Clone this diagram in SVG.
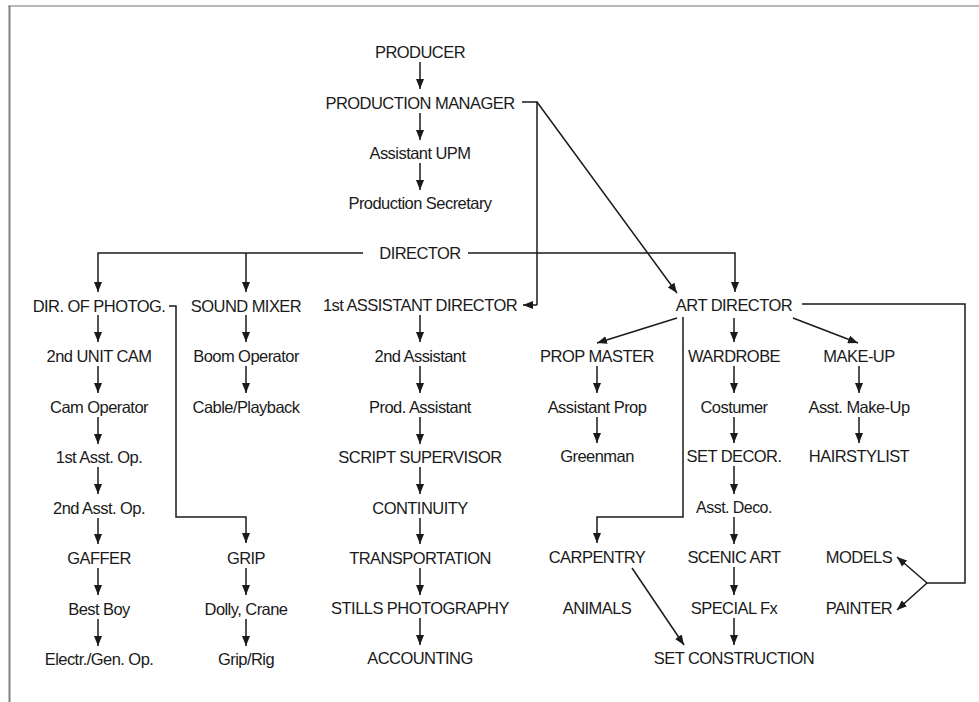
<svg xmlns="http://www.w3.org/2000/svg" width="979" height="702" viewBox="0 0 979 702">
<defs>
<style>
text{font-family:"Liberation Sans",Arial,Helvetica,sans-serif;font-size:16.5px;letter-spacing:-0.55px;fill:#1a1a1a;text-anchor:middle}
.c{fill:none;stroke:#1a1a1a;stroke-width:1.5}
.a{marker-end:url(#ah)}
</style>
<marker id="ah" markerUnits="userSpaceOnUse" markerWidth="10" markerHeight="8" refX="10" refY="4" orient="auto">
<path d="M0,0 L10,4 L0,8 z" fill="#1a1a1a"/>
</marker>
</defs>
<rect width="979" height="702" fill="#fff"/>
<g id="frame">
<line x1="8" y1="6" x2="979" y2="6" stroke="#b8b8b8" stroke-width="2"/>
<line x1="9.5" y1="6" x2="9.5" y2="702" stroke="#808080" stroke-width="2"/>
</g>
<g id="connectors">
<path class="c a" d="M420,62 V89"/>
<path class="c a" d="M420,113 V140"/>
<path class="c a" d="M420,163 V190"/>
<path class="c" d="M522,102 H537 V305"/>
<path class="c a" d="M537,305 H523"/>
<path class="c a" d="M537,102 L677,293"/>
<path class="c a" d="M363,253 H98 V292"/>
<path class="c a" d="M246,253 V292"/>
<path class="c a" d="M468,253 H735 V292"/>
<path class="c a" d="M98,315 V342"/>
<path class="c a" d="M98,366 V393"/>
<path class="c a" d="M98,417 V444"/>
<path class="c a" d="M98,467 V494"/>
<path class="c a" d="M98,518 V544"/>
<path class="c a" d="M98,568 V595"/>
<path class="c a" d="M98,619 V646"/>
<path class="c a" d="M169,306 H176 V517 H246 V543"/>
<path class="c a" d="M246,315 V342"/>
<path class="c a" d="M246,366 V393"/>
<path class="c a" d="M246,568 V595"/>
<path class="c a" d="M246,619 V646"/>
<path class="c a" d="M420,315 V342"/>
<path class="c a" d="M420,366 V393"/>
<path class="c a" d="M420,417 V444"/>
<path class="c a" d="M420,467 V494"/>
<path class="c a" d="M420,518 V544"/>
<path class="c a" d="M420,568 V595"/>
<path class="c a" d="M420,618 V645"/>
<path class="c a" d="M677,318 L597,343"/>
<path class="c a" d="M734,318 V342"/>
<path class="c a" d="M793,318 L858,343"/>
<path class="c a" d="M683,317 V517 H597 V543"/>
<path class="c" d="M802,304 H965 V583 H927"/>
<path class="c a" d="M927,583 L897,557"/>
<path class="c a" d="M927,583 L897,610"/>
<path class="c a" d="M597,366 V393"/>
<path class="c a" d="M597,417 V443"/>
<path class="c a" d="M734,366 V393"/>
<path class="c a" d="M734,417 V443"/>
<path class="c a" d="M734,466 V494"/>
<path class="c a" d="M734,517 V544"/>
<path class="c a" d="M734,567 V595"/>
<path class="c a" d="M734,618 V645"/>
<path class="c a" d="M859,366 V393"/>
<path class="c a" d="M859,417 V443"/>
<path class="c a" d="M632,568 L684,645"/>
</g>
<g id="producer"><text x="420" y="58">PRODUCER</text></g>
<g id="production-manager"><text x="420" y="109">PRODUCTION MANAGER</text></g>
<g id="assistant-upm"><text x="420" y="159">Assistant UPM</text></g>
<g id="production-secretary"><text x="420" y="209">Production Secretary</text></g>
<g id="director"><text x="420" y="259">DIRECTOR</text></g>
<g id="dir-photog"><text x="99" y="312">DIR. OF PHOTOG.</text></g>
<g id="sound-mixer"><text x="246" y="312">SOUND MIXER</text></g>
<g id="first-ad"><text x="420" y="311">1st ASSISTANT DIRECTOR</text></g>
<g id="art-director"><text x="734" y="311">ART DIRECTOR</text></g>
<g id="second-unit-cam"><text x="99" y="362">2nd UNIT CAM</text></g>
<g id="boom-operator"><text x="246" y="362">Boom Operator</text></g>
<g id="second-assistant"><text x="420" y="362">2nd Assistant</text></g>
<g id="prop-master"><text x="597" y="362">PROP MASTER</text></g>
<g id="wardrobe"><text x="734" y="362">WARDROBE</text></g>
<g id="make-up"><text x="859" y="362">MAKE-UP</text></g>
<g id="cam-operator"><text x="99" y="413">Cam Operator</text></g>
<g id="cable-playback"><text x="246" y="413">Cable/Playback</text></g>
<g id="prod-assistant"><text x="420" y="413">Prod. Assistant</text></g>
<g id="assistant-prop"><text x="597" y="413">Assistant Prop</text></g>
<g id="costumer"><text x="734" y="413">Costumer</text></g>
<g id="asst-make-up"><text x="859" y="413">Asst. Make-Up</text></g>
<g id="first-asst-op"><text x="99" y="463">1st Asst. Op.</text></g>
<g id="script-supervisor"><text x="420" y="463">SCRIPT SUPERVISOR</text></g>
<g id="greenman"><text x="597" y="462">Greenman</text></g>
<g id="set-decor"><text x="734" y="462">SET DECOR.</text></g>
<g id="hairstylist"><text x="859" y="462">HAIRSTYLIST</text></g>
<g id="second-asst-op"><text x="99" y="514">2nd Asst. Op.</text></g>
<g id="continuity"><text x="420" y="514">CONTINUITY</text></g>
<g id="asst-deco"><text x="734" y="513" style="font-size:16px">Asst. Deco.</text></g>
<g id="gaffer"><text x="99" y="564">GAFFER</text></g>
<g id="grip"><text x="246" y="564">GRIP</text></g>
<g id="transportation"><text x="420" y="564">TRANSPORTATION</text></g>
<g id="carpentry"><text x="597" y="563">CARPENTRY</text></g>
<g id="scenic-art"><text x="734" y="563">SCENIC ART</text></g>
<g id="models"><text x="859" y="563">MODELS</text></g>
<g id="best-boy"><text x="99" y="615">Best Boy</text></g>
<g id="dolly-crane"><text x="246" y="615">Dolly, Crane</text></g>
<g id="stills-photography"><text x="420" y="614">STILLS PHOTOGRAPHY</text></g>
<g id="animals"><text x="597" y="614">ANIMALS</text></g>
<g id="special-fx"><text x="734" y="614">SPECIAL Fx</text></g>
<g id="painter"><text x="859" y="614">PAINTER</text></g>
<g id="electr-gen-op"><text x="99" y="665">Electr./Gen. Op.</text></g>
<g id="grip-rig"><text x="246" y="665">Grip/Rig</text></g>
<g id="accounting"><text x="420" y="664">ACCOUNTING</text></g>
<g id="set-construction"><text x="734" y="664">SET CONSTRUCTION</text></g>
</svg>
